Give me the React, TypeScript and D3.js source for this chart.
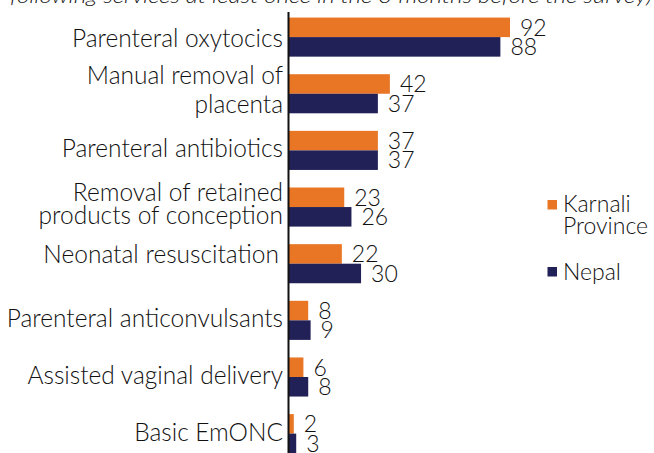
import React from "react";
import * as d3 from "d3";

const categories = [
  "Parenteral oxytocics",
  "Manual removal of placenta",
  "Parenteral antibiotics",
  "Removal of retained products of conception",
  "Neonatal resuscitation",
  "Parenteral anticonvulsants",
  "Assisted vaginal delivery",
  "Basic EmONC",
];

// how each category label breaks onto lines
const labelLines = [
  ["Parenteral oxytocics"],
  ["Manual removal of", "placenta"],
  ["Parenteral antibiotics"],
  ["Removal of retained", "products of conception"],
  ["Neonatal resuscitation"],
  ["Parenteral anticonvulsants"],
  ["Assisted vaginal delivery"],
  ["Basic EmONC"],
];

const seriesNames = ["Karnali Province", "Nepal"];
const karnaliValues = [92, 42, 37, 23, 22, 8, 6, 2];
const nepalValues = [88, 37, 37, 26, 30, 9, 8, 3];

const titleText =
  "following services at least once in the 3 months before the survey)";

const W = 654;
const H = 453;
const FONT = "Lato, 'Open Sans', sans-serif";
const colors = ["#E97625", "#212157"];

const App = () => {
  const series = [karnaliValues, nepalValues];

  // layout
  const axisX = 288.5;
  const step = 56.65;
  const firstCenter = 37.1;
  const labelX = 283;

  const x = d3.scaleLinear().domain([0, 100]).range([289, 289 + 240.2]);

  const y = d3
    .scaleBand()
    .domain(categories)
    .range([firstCenter - step / 2, firstCenter + (categories.length - 0.5) * step])
    .paddingInner(0.31)
    .paddingOuter(0.155);

  const sub = d3
    .scaleBand()
    .domain(seriesNames)
    .range([0, y.bandwidth()]);

  // small nudges to match the original's label placement
  const nudgeY = (i: number) => (i === 0 ? 3 : i === 1 ? -2 : i === 3 ? -2 : i === 4 ? -8 : 0);
  const nudgeX = (i: number) => (i === 4 ? -4 : 0);

  return (
    <svg
      width={W}
      height={H}
      style={{ position: "absolute", left: 0, top: 0, background: "#fff" }}
      fontFamily={FONT}
      fontWeight={300}
    >
      {/* cut-off subtitle */}
      <text
        x={10}
        y={3}
        fontSize={20}
        fontStyle="italic"
        fill="#111"
        textLength={642}
        lengthAdjust="spacingAndGlyphs"
      >
        {titleText}
      </text>

      {/* bars */}
      {seriesNames.map((name, s) => (
        <g key={name}>
          {categories.map((c, i) => {
            const v = series[s][i];
            const top = (y(c) ?? 0) + (sub(name) ?? 0);
            return (
              <g key={c}>
                <rect
                  x={x(0)}
                  y={top}
                  width={x(v) - x(0)}
                  height={sub.bandwidth()}
                  fill={colors[s]}
                />
                <text
                  x={x(v) + 10}
                  y={top + sub.bandwidth() / 2}
                  dy="0.36em"
                  fontSize={23}
                  fill="#111"
                >
                  {v}
                </text>
              </g>
            );
          })}
        </g>
      ))}

      {/* axis line */}
      <line x1={axisX} x2={axisX} y1={12} y2={H} stroke="#111" strokeWidth={2} />

      {/* category labels */}
      {categories.map((c, i) => {
        const lines = labelLines[i];
        const cy = (y(c) ?? 0) + y.bandwidth() / 2;
        const lh = i === 1 ? 29 : 23;
        const base = cy + 7 - ((lines.length - 1) * lh) / 2 + nudgeY(i);
        const lx = labelX + nudgeX(i);
        return (
          <text key={c} x={lx} textAnchor="end" fontSize={24.5} fill="#111">
            {lines.map((l, k) => (
              <tspan key={k} x={lx} y={base + k * lh}>
                {l}
              </tspan>
            ))}
          </text>
        );
      })}

      {/* legend */}
      <g>
        <rect x={547.5} y={200} width={9.5} height={9.5} fill={colors[0]} />
        <text fontSize={23} fill="#111">
          <tspan x={563} y={211.5}>Karnali</tspan>
          <tspan x={563} y={233.5}>Province</tspan>
        </text>
        <rect x={547.5} y={267} width={9.5} height={9.5} fill={colors[1]} />
        <text x={563} y={279.5} fontSize={23} fill="#111">
          Nepal
        </text>
      </g>
    </svg>
  );
};

export default App;
